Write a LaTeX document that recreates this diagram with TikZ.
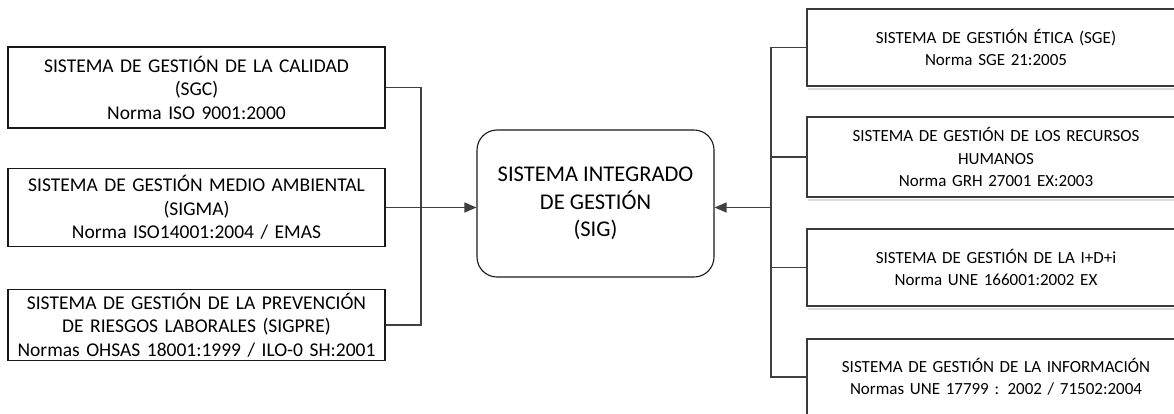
\documentclass[tikz,border=0pt]{standalone}
\usepackage{fontspec}
\setmainfont{Carlito}
\usetikzlibrary{arrows.meta,calc}
\definecolor{lineg}{HTML}{404040}
\definecolor{boxg}{HTML}{3A3A3A}
\begin{document}
\begin{tikzpicture}[x=1pt,y=-1pt,
  lbox/.style={draw=black!90, line width=1.2pt, rectangle, minimum width=377pt, text width=370pt, align=center, inner sep=0pt,
    font=\fontsize{19.5}{23.5}\selectfont},
  rbox/.style={draw=boxg, line width=1.2pt, rectangle, minimum width=378pt, text width=370pt, align=center, inner sep=0pt,
    font=\fontsize{17}{22.5}\selectfont},
  cbox/.style={draw=black!90, line width=1.1pt, rectangle, rounded corners=20pt, minimum width=237pt, minimum height=147pt, align=center, inner sep=0pt,
    font=\fontsize{22.5}{27.5}\selectfont},
  conn/.style={draw=lineg, line width=1.5pt},
  arr/.style={conn, -{Triangle[length=12pt,width=10pt]}},
  shadowline/.style={draw=black!14, line width=2pt}
]
\useasboundingbox (0,0) rectangle (1174,413);
\fill[white] (0,0) rectangle (1174,413);
\begin{scope}
\clip (0,0) rectangle (1174,413);
% left boxes
\node[lbox, minimum height=81pt] (L1) at (196.5,87.5) {SISTEMA DE GESTIÓN DE LA CALIDAD\\(SGC)\\Norma ISO 9001:2000};
\node[lbox, minimum height=78pt] (L2) at (196.5,207.5) {SISTEMA DE GESTIÓN MEDIO AMBIENTAL\\(SIGMA)\\Norma ISO14001:2004 / EMAS};
\node[lbox, minimum height=71pt] (L3) at (196.5,325) {SISTEMA DE GESTIÓN DE LA PREVENCIÓN\\DE RIESGOS LABORALES (SIGPRE)\\Normas OHSAS 18001:1999 / ILO-0 SH:2001};
% centre
\node[cbox] (C) at (595.5,203.5) {SISTEMA INTEGRADO\\DE GESTIÓN\\(SIG)};
% right boxes
\node[rbox, minimum height=77pt] (R1) at (996,47.5) {SISTEMA DE GESTIÓN ÉTICA (SGE)\\Norma SGE 21:2005};
\node[rbox, minimum height=80pt] (R2) at (996,157) {SISTEMA DE GESTIÓN DE LOS RECURSOS\\HUMANOS\\Norma GRH 27001 EX:2003};
\node[rbox, minimum height=77pt] (R3) at (996,267.5) {SISTEMA DE GESTIÓN DE LA I+D+i\\Norma UNE 166001:2002 EX};
\node[rbox, minimum height=76pt] (R4) at (996,377) {SISTEMA DE GESTIÓN DE LA INFORMACIÓN\\Normas UNE 17799 : 2002 / 71502:2004};
% faint shadows under right boxes
\foreach \n in {R1,R2,R3}{
  \draw[shadowline] ([xshift=1.5pt,yshift=-2pt]\n.south west) -- ([yshift=-2pt]\n.south east);
}
% junctions
\coordinate (jL) at (421,207.5);
\coordinate (jR) at (771,207.5);
% left connectors
\draw[conn] (L1.east) -| (jL) |- (L3.east);
\draw[arr] (L2.east) -- (L2.east -| C.west);
% right connectors
\draw[conn] (R1.west) -| (jR) |- (R4.west);
\draw[conn] (R2.west) -- (R2.west -| jR);
\draw[conn] (R3.west) -- (R3.west -| jR);
\draw[arr] (jR) -- (jR -| C.east);
\end{scope}
\end{tikzpicture}
\end{document}
